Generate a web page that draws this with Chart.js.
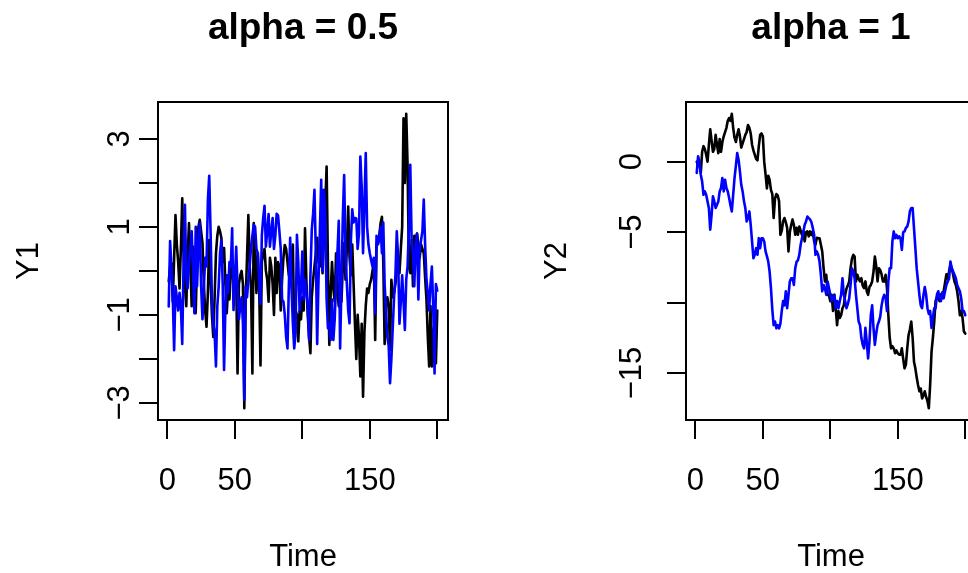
<!DOCTYPE html>
<html>
<head>
<meta charset="utf-8">
<script src="https://cdn.jsdelivr.net/npm/chart.js@4.4.0/dist/chart.umd.min.js"></script>
<style>
  html, body { margin:0; padding:0; background:#fff; overflow:hidden; }
  #wrap { position:relative; width:968px; height:573px; overflow:hidden; background:#fff; }
  canvas { position:absolute; top:0; }
</style>
</head>
<body>
<div id="wrap">
  <canvas id="graph1" width="528" height="573" style="left:0px"></canvas>
  <canvas id="graph2" width="528" height="573" style="left:528px"></canvas>
</div>
<script>
// 2枚のパネル (左: alpha = 0.5 / 右: alpha = 1)
const FONT = '"Liberation Sans", Arial, Helvetica, sans-serif';

const TITLES   = ["alpha = 0.5", "alpha = 1"];
const Y_LABELS = ["Y1", "Y2"];
const X_LABEL  = "Time";

// 時点 1..200
const TIME = [];
for (let i = 1; i <= 200; i++){ TIME.push(i); }

const X_TICKS       = [0, 50, 100, 150, 200];
const X_TICK_LABELS = ["0", "50", "", "150", ""];

const Y1_TICKS       = [-3, -2, -1, 0, 1, 2, 3];
const Y1_TICK_LABELS = ["\u22123", "", "\u22121", "", "1", "", "3"];
const Y2_TICKS       = [-15, -10, -5, 0];
const Y2_TICK_LABELS = ["\u221215", "", "\u22125", "0"];

// 左パネル 黒
const Y1_BLACK = [
  -0.24, 0.1, 0.17, -0.7, 0.3, 1.27, 0.6, 0.2, -0.4, 0.5,
  1.65, 0.4, -0.36, -0.8, 0.3, 1.09, 0.2, -0.8, 0.55, 0.1,
  -0.96, 0.3, 1.0, 1.16, 0.9, 0.63, -0.3, -0.9, -1.27, -0.5,
  0.7, -0.2, -1.0, -1.5, -0.6, 0.4, 0.8, 1.0, 0.9, 0.75,
  0.2, 0.52, -0.3, -0.96, -0.36, -0.65, 0.1, 0.2, -0.4, 0.1,
  -0.2, -2.33, -0.3, -0.1, 0.0, -0.3, -3.12, -0.7, 0.3, 1.27,
  0.1, -0.4, -2.33, 1.09, 0.3, -0.5, 0.4, -0.3, -2.15, 0.2,
  0.4, 0.5, 0.0, -0.2, -0.7, 0.3, 0.1, -0.3, -1.0, 0.3,
  -0.5, 0.2, 0.1, -0.9, -0.2, 0.3, 0.59, 0.5, 0.2, -0.1,
  0.4, 0.3, 0.6, -1.42, -0.9, -1.0, -1.6, -0.9, -1.1, -0.6,
  -0.9, 0.97, -0.2, -1.0, -1.5, -1.87, -0.6, -0.2, 0.1, 0.4,
  0.75, 0.2, 0.1, 0.6, -0.05, 0.8, 1.5, 2.37, 0.1, -1.68,
  -0.5, 0.2, -0.4, -0.7, 0.4, -0.5, -0.8, -0.2, -0.7, 0.1,
  0.63, -0.2, 0.5, 1.46, 0.3, -0.1, 0.6, -0.3, -1.2, -2.0,
  -1.0, -1.5, -2.4, -1.2, -2.86, -1.4, -0.8, -0.4, -0.5, -0.3,
  -0.2, 0.0, 0.2, -1.57, 0.6, 0.7, 0.8, 1.08, 1.23, 0.2,
  -1.66, -0.8, -0.6, -0.8, -1.8, -0.2, -0.6, -0.5, -0.3, 0.0,
  0.2, -0.05, 0.5, 1.0, 3.47, 2.0, 3.57, 2.4, 0.1, -0.05,
  0.7, -0.35, 0.8, 0.6, 0.85, 0.6, 0.3, 0.6, 0.5, 0.4,
  -0.15, -0.65, -1.5, -2.17, -0.8, -2.17, -1.4, -1.2, -2.1, -0.9
];

// 左パネル 青
const Y1_BLUE = [
  -0.81, 0.68, 0.1, -0.6, -1.8, -0.35, -0.6, -0.9, -0.5, -0.8,
  -1.66, 0.2, 1.5, -0.1, -0.4, 0.2, 0.5, 0.9, 0.0, -0.96,
  1.0, -0.35, 0.6, 1.08, -0.35, -1.1, -0.4, 0.3, 0.1, 1.6,
  2.16, 0.9, -0.65, -1.2, -1.4, -2.17, -0.8, -0.36, 0.4, 0.7,
  -0.3, -2.25, -0.8, -0.1, -0.5, 0.2, 0.1, 0.97, -0.89, -0.2,
  0.55, -0.4, -1.1, -0.8, -0.6, -1.2, -2.93, -0.36, -0.6, -0.2,
  0.1, 0.55, 0.8, 1.05, 1.0, 0.5, 0.4, -0.3, -0.75, 0.8,
  1.2, 1.48, 0.55, 0.9, 1.29, 0.55, 0.9, 1.2, 0.5, 0.8,
  1.3, 1.26, 0.9, 0.5, -0.65, -0.7, -1.0, -1.5, -1.76, -0.36,
  0.75, -0.4, -1.2, -1.76, -1.4, 0.82, 0.2, -0.9, -0.4, 0.44,
  -0.65, -0.2, -0.5, -0.8, -1.57, -0.1, 0.93, 1.3, 1.84, 0.4,
  -1.66, -0.2, 0.9, 2.07, 0.0, 1.84, 1.2, -0.65, -1.3, -1.2,
  -1.57, -0.65, -1.57, -1.1, -0.3, 0.4, 1.14, -1.76, -0.3, 1.2,
  2.18, 0.4, -0.3, -0.9, -1.19, 0.7, 1.4, 1.1, 1.2, 1.19,
  0.5, 0.85, 2.6, 1.9, 0.4, 1.5, 2.68, 1.0, 0.6, 0.4,
  0.25, 0.1, 0.3, -0.96, 0.8, 0.6, 0.7, 1.0, 0.4, 1.1,
  -0.3, -0.9, -1.5, -1.7, -2.55, -2.0, -1.3, -0.6, -0.1, 0.9,
  0.3, -1.2, -0.7, -0.1, -0.7, -1.34, -0.2, 0.1, 1.0, 2.41,
  0.7, 0.4, -0.35, 0.6, 0.85, -0.65, 0.5, 0.7, 0.9, 1.62,
  0.6, -0.2, -0.5, -0.9, -0.3, 0.1, -0.8, -2.33, -0.3, -0.45
];

// 右パネル 黒
const Y2_BLACK = [
  0.0, -0.3, -0.1, -0.8, 0.7, 1.1, 0.9, 0.5, 0.0, 1.2,
  2.3, 1.5, 0.7, 0.9, 1.9, 1.2, 0.6, 1.6, 0.7, 1.4,
  1.8, 2.1, 2.4, 2.9, 3.1, 2.9, 3.4, 2.4, 1.7, 1.4,
  1.9, 2.3, 1.8, 1.0, 1.3, 1.6, 1.9, 2.1, 2.6, 2.4,
  2.0, 1.2, 0.8, 0.5, 0.2, 0.1, 1.1, 1.9, 2.0, 1.8,
  0.0, -0.9, -1.9, -1.0, -1.3, -2.0, -2.3, -4.0, -2.6, -2.3,
  -2.4, -2.8, -5.19, -4.9, -4.24, -4.0, -4.3, -4.7, -6.37, -5.0,
  -4.5, -4.1, -4.5, -5.19, -4.7, -5.19, -4.6, -4.9, -5.2, -4.95,
  -5.66, -5.0, -4.95, -5.3, -4.95, -5.2, -4.95, -5.66, -5.9, -5.4,
  -5.43, -5.43, -5.9, -6.37, -7.56, -8.5, -8.03, -9.45, -9.5, -9.9,
  -9.45, -10.6, -9.45, -10.4, -11.6, -10.6, -11.1, -10.9, -10.4, -10.2,
  -9.45, -9.0, -8.8, -8.5, -7.56, -6.9, -6.61, -6.73, -8.5, -8.03,
  -8.3, -8.5, -8.27, -8.8, -8.98, -8.5, -9.2, -9.45, -8.9, -8.75,
  -8.5, -7.8, -6.73, -7.4, -8.5, -7.56, -7.7, -8.0, -8.5, -8.5,
  -8.03, -9.0, -10.9, -12.5, -13.25, -13.1, -13.25, -13.6, -13.4, -13.6,
  -13.7, -13.7, -13.25, -14.0, -14.67, -14.4, -13.25, -12.3, -11.9, -11.35,
  -12.5, -14.2, -14.67, -15.3, -15.85, -16.3, -16.1, -16.8, -16.6, -16.3,
  -16.7, -17.0, -17.5, -15.8, -13.5, -12.5, -11.35, -9.9, -9.6, -9.7,
  -9.9, -9.45, -9.3, -9.2, -8.6, -8.0, -8.3, -7.8, -7.32, -7.56,
  -8.03, -8.5, -8.75, -9.2, -9.9, -10.9, -10.6, -11.1, -12.06, -12.2
];

// 右パネル 青
const Y2_BLUE = [
  -0.8, 0.38, 0.02, -0.92, -1.4, -2.35, -2.11, -2.35, -2.82, -3.3,
  -4.83, -3.77, -2.46, -2.82, -3.29, -3.06, -2.82, -2.11, -1.87, -1.16,
  -2.11, -1.28, -1.87, -2.11, -2.58, -3.1, -3.53, -2.35, -1.16, -0.3,
  0.62, 0.14, -0.69, -1.64, -2.11, -2.8, -3.29, -4.24, -4.0, -3.53,
  -4.48, -5.66, -6.85, -6.61, -6.14, -6.61, -5.43, -6.14, -5.43, -5.43,
  -5.66, -6.37, -6.7, -7.09, -7.8, -8.98, -10.5, -11.6, -11.35, -11.83,
  -11.6, -11.83, -11.5, -10.6, -9.9, -10.2, -9.2, -10.4, -9.45, -8.5,
  -8.27, -8.27, -8.75, -7.56, -7.1, -7.0, -6.61, -5.9, -5.43, -5.0,
  -4.48, -4.24, -3.89, -4.0, -4.1, -4.3, -4.7, -5.19, -6.61, -6.37,
  -6.6, -7.09, -8.03, -9.2, -8.75, -8.98, -9.45, -8.5, -8.98, -9.45,
  -9.9, -9.6, -9.45, -10.4, -9.9, -10.4, -9.9, -9.45, -8.27, -9.45,
  -9.9, -10.4, -10.1, -9.7, -8.75, -7.56, -7.8, -8.27, -9.45, -10.4,
  -11.35, -11.6, -12.5, -13.0, -13.25, -11.8, -12.8, -13.96, -12.8, -10.9,
  -10.2, -11.8, -13.0, -12.2, -11.6, -11.35, -11.0, -10.2, -9.7, -9.45,
  -9.7, -10.6, -8.5, -7.56, -7.56, -5.66, -4.95, -5.43, -5.2, -5.43,
  -5.3, -5.43, -6.26, -5.0, -4.95, -4.7, -4.6, -4.24, -3.5, -3.3,
  -3.3, -4.7, -6.1, -7.56, -8.5, -9.45, -10.2, -10.4, -9.5, -8.9,
  -9.45, -10.4, -10.8, -10.6, -11.8, -11.1, -10.4, -10.4, -9.45, -9.2,
  -9.7, -9.9, -9.3, -9.7, -9.2, -8.75, -8.5, -8.3, -7.09, -7.56,
  -7.8, -8.03, -8.27, -8.75, -8.98, -9.2, -9.7, -10.6, -10.6, -10.9
];

// タイトルと枠を描く (R の box() と main)
const R_FRAME = {
  id: "r_frame",
  afterDraw(chart, args, opts){
    const a   = chart.chartArea;
    const ctx = chart.ctx;
    ctx.save();
    ctx.strokeStyle = "#000";
    ctx.lineWidth   = 2;
    ctx.strokeRect(a.left, a.top, a.right - a.left, a.bottom - a.top);
    ctx.font         = "bold 37px " + FONT;
    ctx.fillStyle    = "#000";
    ctx.textAlign    = "center";
    ctx.textBaseline = "alphabetic";
    ctx.fillText(opts.title, (a.left + a.right) / 2, 39);
    ctx.restore();
  }
};

function make_chart(id, title, ylab, black, blue, y_ticks, y_tick_labels, y_pad){
  const lo  = Math.min(...black, ...blue);
  const hi  = Math.max(...black, ...blue);
  const ext = (hi - lo) * 0.04;
  const t0  = TIME[0], t1 = TIME[TIME.length - 1];
  const xext = (t1 - t0) * 0.04;

  const axis_grid = { drawOnChartArea:false, drawTicks:true, tickLength:19, color:"#000", lineWidth:2 };
  const axis_border = { display:true, color:"#000", width:2 };

  const ctx = document.getElementById(id).getContext("2d");
  return new Chart(ctx, {
    type: "line",
    data: {
      datasets: [
        { label:"black", data: TIME.map((t, i) => ({ x:t, y:black[i] })), borderColor:"#000000", order:2 },
        { label:"blue",  data: TIME.map((t, i) => ({ x:t, y:blue[i] })),  borderColor:"#0000FF", order:1 },
      ]
    },
    options: {
      responsive: false,
      animation: false,
      layout: { autoPadding:false, padding:{ top:102, right:80, left:0, bottom:0 } },
      elements: {
        point: { radius:0, hoverRadius:0 },
        line:  { borderWidth:2.6, tension:0, borderJoinStyle:"round", borderCapStyle:"round", fill:false }
      },
      plugins: {
        legend:  { display:false },
        tooltip: { enabled:false },
        r_frame: { title: title }
      },
      scales: {
        x: {
          type: "linear",
          min: t0 - xext,
          max: t1 + xext,
          afterBuildTicks: s => { s.ticks = X_TICKS.map(v => ({ value:v })); },
          afterFit: s => { s.height = 153; },
          grid: axis_grid,
          border: axis_border,
          ticks: {
            color:"#000", font:{ family:FONT, size:31 },
            minRotation:0, maxRotation:0, autoSkip:false, padding:24,
            callback: (v, i) => X_TICK_LABELS[i]
          },
          title: { display:true, text:X_LABEL, color:"#000", font:{ family:FONT, size:31 }, padding:{ top:0, bottom:-3 } }
        },
        y: {
          type: "linear",
          min: lo - ext,
          max: hi + ext,
          afterBuildTicks: s => { s.ticks = y_ticks.map(v => ({ value:v })); },
          afterFit: s => { s.width = 158; },
          grid: axis_grid,
          border: axis_border,
          ticks: {
            color:"#000", font:{ family:FONT, size:31 },
            minRotation:90, maxRotation:90, crossAlign:"center", autoSkip:false, padding:y_pad,
            callback: (v, i) => y_tick_labels[i]
          },
          title: { display:true, text:ylab, color:"#000", font:{ family:FONT, size:31 }, padding:{ top:11, bottom:0 } }
        }
      }
    },
    plugins: [R_FRAME]
  });
}

window.addEventListener("load", function(){
  make_chart("graph1", TITLES[0], Y_LABELS[0], Y1_BLACK, Y1_BLUE, Y1_TICKS, Y1_TICK_LABELS, 1);
  make_chart("graph2", TITLES[1], Y_LABELS[1], Y2_BLACK, Y2_BLUE, Y2_TICKS, Y2_TICK_LABELS, 8);
});
</script>
</body>
</html>
